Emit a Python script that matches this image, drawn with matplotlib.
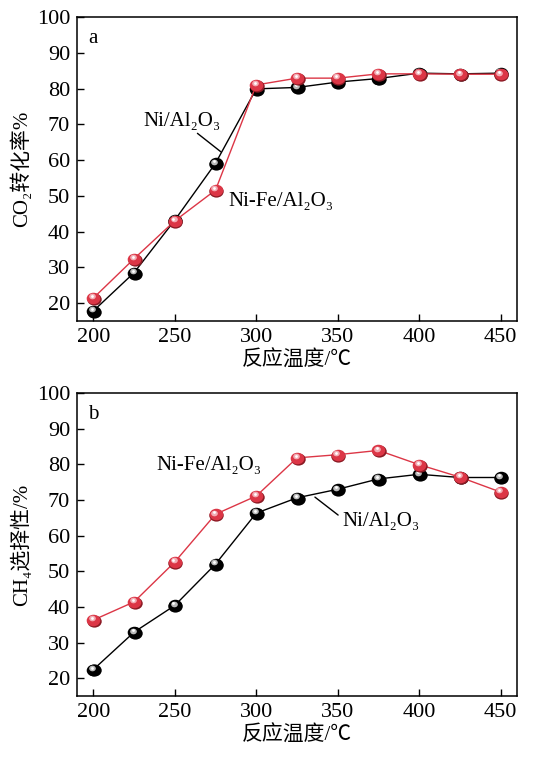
import numpy as np
import matplotlib
matplotlib.use("Agg")
import matplotlib.pyplot as plt
from matplotlib.transforms import offset_copy, Affine2D
from matplotlib.path import Path

plt.rcParams['font.family'] = ['Liberation Serif', 'Noto Sans CJK SC', 'DejaVu Serif']
plt.rcParams['axes.unicode_minus'] = False

# temperatures (degC)
temps = [200, 225, 250, 275, 300, 325, 350, 375, 400, 425, 450]

# panel a: CO2 conversion (%)
conv_ni = [17.8, 28.5, 43.2, 59.1, 79.9, 80.3, 81.8, 82.8, 84.3, 84.1, 84.3]
conv_nife = [21.4, 32.4, 43.0, 51.6, 81.0, 82.9, 82.9, 84.1, 84.1, 84.0, 84.0]

# panel b: CH4 selectivity (%)
sel_ni = [22.4, 32.9, 40.4, 52.0, 66.3, 70.6, 73.0, 75.9, 77.2, 76.3, 76.3]
sel_nife = [36.3, 41.4, 52.6, 66.0, 71.1, 81.8, 82.7, 83.9, 79.9, 76.4, 72.2]

xticks = [200, 250, 300, 350, 400, 450]
yticks = [20, 30, 40, 50, 60, 70, 80, 90, 100]

RED = '#dc3646'
RED_DARK = '#8a1a24'
RED_LIGHT = '#f5b9c0'
BLACK = '#000000'
GRAY_LIGHT = '#cfcfcf'

# slightly flattened ball marker
ball = Path.unit_circle().transformed(Affine2D().scale(1.18, 1.0))


def sphere_line(ax, x, y, line_col, ball_col, shade_col, hi_col, z):
    ax.plot(x, y, '-', color=line_col, lw=1.0, zorder=z)
    tr0 = offset_copy(ax.transData, fig=ax.figure, x=0.5, y=-0.6, units='points')
    ax.plot(x, y, ls='none', marker=ball, ms=10.4, color=shade_col, mec='none',
            transform=tr0, zorder=z + 0.05)
    ax.plot(x, y, ls='none', marker=ball, ms=9.8, color=ball_col, mec='none',
            zorder=z + 0.1)
    tr = offset_copy(ax.transData, fig=ax.figure, x=-0.9, y=1.2, units='points')
    ax.plot(x, y, ls='none', marker=ball, ms=4.8, color=hi_col, mec='none',
            alpha=0.9, transform=tr, zorder=z + 0.2)
    tr2 = offset_copy(ax.transData, fig=ax.figure, x=-1.0, y=1.5, units='points')
    ax.plot(x, y, 'o', ms=2.0, color='white', mec='none',
            transform=tr2, zorder=z + 0.3)


def style_axes(ax, ylabel, tag):
    ax.set_xlim(190, 460)
    ax.set_ylim(15, 100)
    ax.set_xticks(xticks)
    ax.set_yticks(yticks)
    ax.tick_params(direction='in', length=5, width=1, labelsize=16,
                   top=False, right=False, pad=5)
    for s in ax.spines.values():
        s.set_linewidth(1.1)
    ax.set_xlabel('反应温度/℃', fontsize=15, labelpad=3)
    ax.set_ylabel(ylabel, fontsize=15, labelpad=3)
    ax.text(0.025, 0.93, tag, transform=ax.transAxes, fontsize=15,
            ha='left', va='center')


fig = plt.figure(figsize=(5.4, 7.58), dpi=100)
ax1 = fig.add_axes([0.1426, 0.5765, 0.8148, 0.4011])
ax2 = fig.add_axes([0.1426, 0.0818, 0.8148, 0.3997])

# panel a
sphere_line(ax1, temps, conv_ni, BLACK, BLACK, BLACK, GRAY_LIGHT, 3)
sphere_line(ax1, temps, conv_nife, RED, RED, RED_DARK, RED_LIGHT, 4)
style_axes(ax1, 'CO₂转化率%', 'a')
ax1.annotate('Ni/Al₂O₃', xy=(278.3, 62.3), xytext=(230.5, 70.9),
             fontsize=15, va='center', ha='left',
             arrowprops=dict(arrowstyle='-', color='black', lw=1.0,
                             shrinkA=0, shrinkB=0, relpos=(0.66, 0.0)))
ax1.text(282.6, 48.3, 'Ni-Fe/Al₂O₃', fontsize=15, va='center', ha='left')

# panel b
sphere_line(ax2, temps, sel_ni, BLACK, BLACK, BLACK, GRAY_LIGHT, 3)
sphere_line(ax2, temps, sel_nife, RED, RED, RED_DARK, RED_LIGHT, 4)
style_axes(ax2, 'CH₄选择性/%', 'b')
ax2.text(239, 79.6, 'Ni-Fe/Al₂O₃', fontsize=15, va='center', ha='left')
ax2.annotate('Ni/Al₂O₃', xy=(336.0, 70.8), xytext=(352.6, 63.9),
             fontsize=15, va='center', ha='left',
             arrowprops=dict(arrowstyle='-', color='black', lw=1.0,
                             shrinkA=0, shrinkB=0, relpos=(-0.05, 0.85)))

fig.savefig('out.png', dpi=100)
